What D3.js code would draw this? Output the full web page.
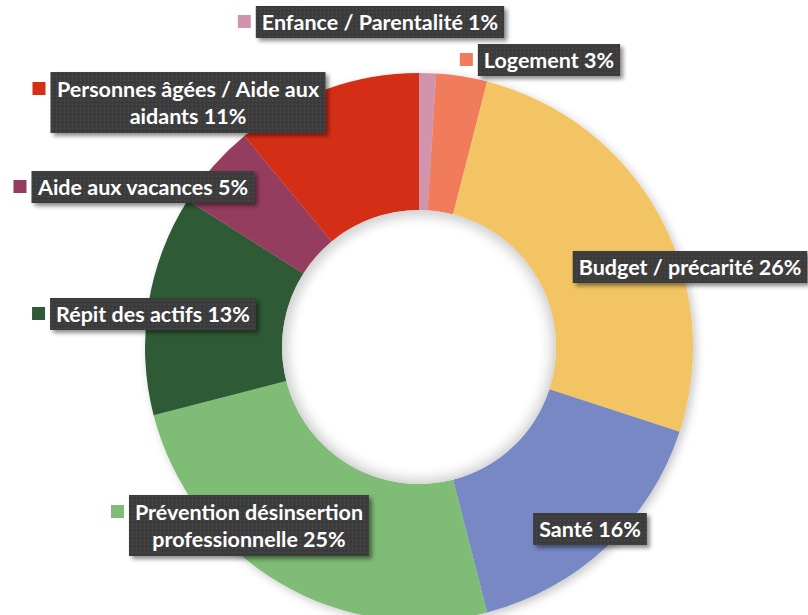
<!DOCTYPE html>
<html>
<head>
<meta charset="utf-8">
<script src="https://cdn.jsdelivr.net/npm/d3@7"></script>
<style>
  body { margin: 0; background: #fff; }
  svg { display: block; }
</style>
</head>
<body>
<div class="container"></div>
<script>
// slices, clockwise from 12 o'clock
var categories = [
    "Enfance / Parentalité",
    "Logement",
    "Budget / précarité",
    "Santé",
    "Prévention désinsertion professionnelle",
    "Répit des actifs",
    "Aide aux vacances",
    "Personnes âgées / Aide aux aidants"
];
var percentages = [1, 3, 26, 16, 25, 13, 5, 11];
var sliceColors = ["#D293AC", "#F17B5C", "#F3C463", "#7788C4", "#7FBC76", "#2F5A36", "#953D5F", "#D52F15"];

// label boxes placed by hand like in the original
var labelLayout = [
    { cx: 380, top: 6,   firstLine: 99, marker: true },
    { cx: 549, top: 44,  firstLine: 99, marker: true },
    { cx: 690, top: 251, firstLine: 99, marker: false },
    { cx: 590, top: 513, firstLine: 99, marker: false },
    { cx: 249, top: 495, firstLine: 2,  marker: true },
    { cx: 153, top: 298, firstLine: 99, marker: true },
    { cx: 143, top: 171, firstLine: 99, marker: true },
    { cx: 188, top: 72,  firstLine: 5,  marker: true }
];

var WIDTH = 808, HEIGHT = 615;
var CENTER = { x: 419, y: 347 };
var OUTER_R = 274, INNER_R = 137;
var FONT_SIZE = 21.5, LINE_H = 27, SINGLE_H = 32, PAD = 6;

document.addEventListener('DOMContentLoaded', function () {
    var svg = d3.select(".container")
        .append("svg")
        .attr("width", WIDTH)
        .attr("height", HEIGHT);

    var defs = svg.append("defs");

    var ringShadow = defs.append("filter").attr("id", "ringShadow")
        .attr("x", "-10%").attr("y", "-10%").attr("width", "120%").attr("height", "120%");
    ringShadow.append("feDropShadow")
        .attr("dx", 3).attr("dy", 3).attr("stdDeviation", 5)
        .attr("flood-color", "#000").attr("flood-opacity", 0.22);

    var boxShadow = defs.append("filter").attr("id", "boxShadow")
        .attr("x", "-10%").attr("y", "-20%").attr("width", "120%").attr("height", "150%");
    boxShadow.append("feDropShadow")
        .attr("dx", 3).attr("dy", 3).attr("stdDeviation", 2)
        .attr("flood-color", "#000").attr("flood-opacity", 0.45);

    var dots = defs.append("pattern").attr("id", "dots")
        .attr("width", 4).attr("height", 4).attr("patternUnits", "userSpaceOnUse");
    dots.append("rect").attr("width", 4).attr("height", 4).attr("fill", "#3d3d3d");
    dots.append("rect").attr("width", 1).attr("height", 1).attr("fill", "#4c4c4c");
    dots.append("rect").attr("x", 2).attr("y", 2).attr("width", 1).attr("height", 1).attr("fill", "#333");

    var holeGrad = defs.append("radialGradient").attr("id", "holeGrad");
    holeGrad.append("stop").attr("offset", "86%").attr("stop-color", "#fff").attr("stop-opacity", 0);
    holeGrad.append("stop").attr("offset", "100%").attr("stop-color", "#d6d6d6").attr("stop-opacity", 1);

    var pie = d3.pie().sort(null).value(d => d);
    var arc = d3.arc().innerRadius(INNER_R).outerRadius(OUTER_R);
    var arcs = pie(percentages);

    var chart = svg.append("g")
        .attr("transform", `translate(${CENTER.x}, ${CENTER.y})`);

    chart.append("g")
        .attr("filter", "url(#ringShadow)")
        .selectAll("path")
        .data(arcs)
        .enter()
        .append("path")
        .attr("d", arc)
        .attr("fill", (d, i) => sliceColors[i]);

    chart.append("circle")
        .attr("r", INNER_R)
        .attr("fill", "url(#holeGrad)");

    // labels
    var labels = svg.append("g").attr("id", "labels");

    categories.forEach(function (name, i) {
        var lay = labelLayout[i];
        var words = (name + " " + percentages[i] + "%").split(" ");
        var lines = [words.slice(0, lay.firstLine).join(" ")];
        if (words.length > lay.firstLine) lines.push(words.slice(lay.firstLine).join(" "));

        var g = labels.append("g");
        var box = g.append("rect")
            .attr("fill", "url(#dots)")
            .attr("filter", "url(#boxShadow)");

        var boxH = lines.length === 1 ? SINGLE_H : SINGLE_H + LINE_H + 2;
        var firstMid = lay.top + boxH / 2 - (lines.length - 1) * LINE_H / 2;

        var text = g.append("text")
            .attr("text-anchor", "middle")
            .attr("fill", "#fff")
            .style("font-family", "Lato, 'Noto Sans', sans-serif")
            .style("font-weight", "bold")
            .style("font-size", FONT_SIZE + "px");

        lines.forEach(function (line, j) {
            text.append("tspan")
                .attr("x", lay.cx)
                .attr("y", firstMid + j * LINE_H + FONT_SIZE * 0.35)
                .text(line);
        });

        var w = text.node().getBBox().width + PAD * 2;
        var left = lay.cx - w / 2;
        box.attr("x", left).attr("y", lay.top).attr("width", w).attr("height", boxH);

        if (lay.marker) {
            g.append("rect")
                .attr("x", left - 18)
                .attr("y", firstMid - 7)
                .attr("width", 13)
                .attr("height", 13)
                .attr("fill", sliceColors[i]);
        }
    });
});
</script>
</body>
</html>
